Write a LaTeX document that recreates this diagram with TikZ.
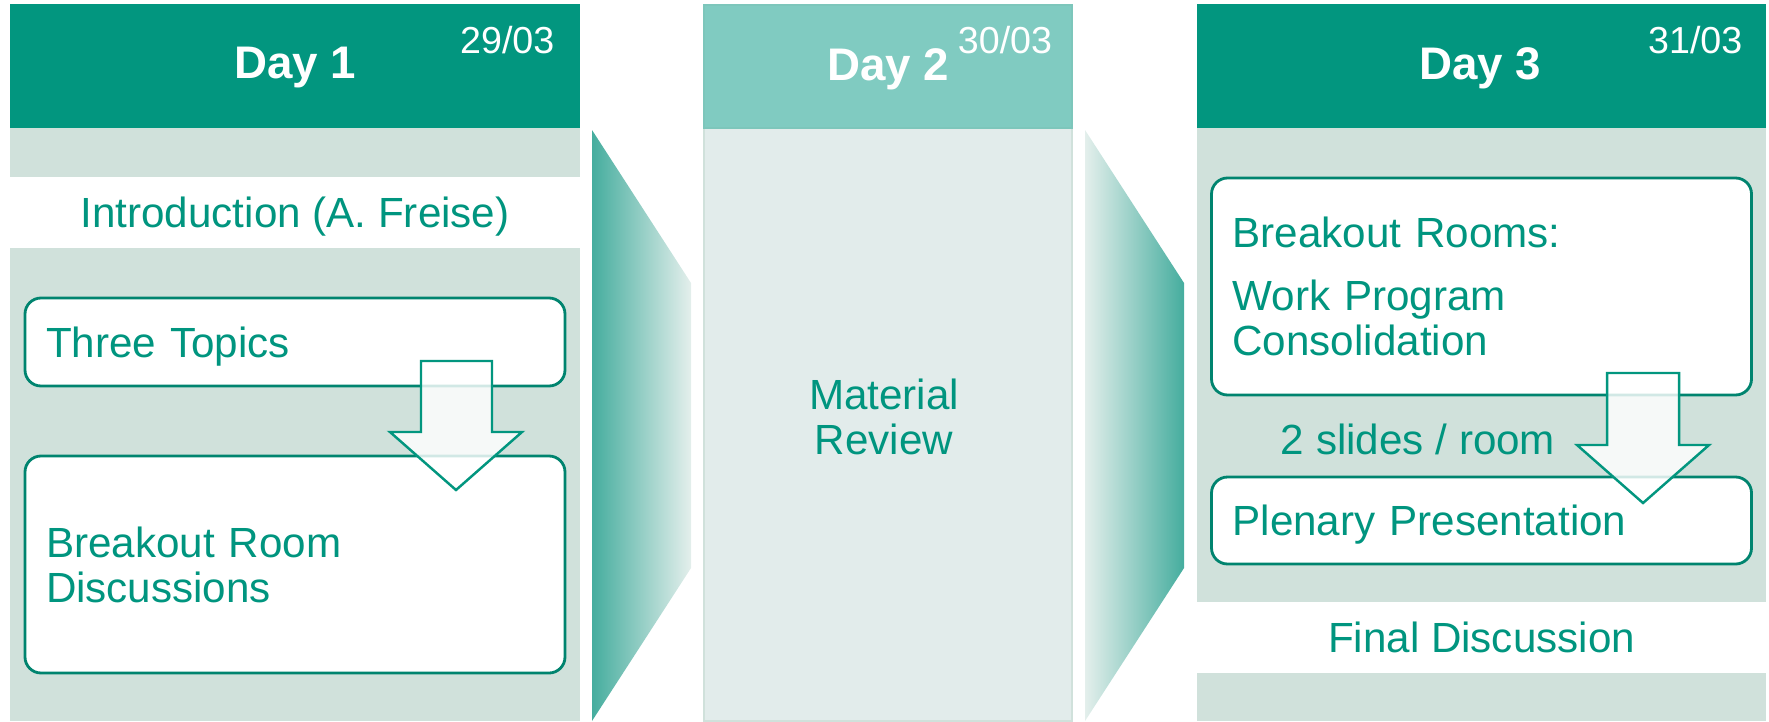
\documentclass[tikz,border=0pt]{standalone}
\usepackage{fontspec}
\setmainfont{Liberation Sans}
\usetikzlibrary{positioning}

\definecolor{headteal}{HTML}{02967F}
\definecolor{bodygrey}{HTML}{D0E1DB}
\definecolor{paleteal}{HTML}{80CBC1}
\definecolor{palegrey}{HTML}{E2ECEB}
\definecolor{textteal}{HTML}{00957F}
\definecolor{boxteal}{HTML}{00846F}
\definecolor{gradteal}{HTML}{45AD9E}
\definecolor{gradlight}{HTML}{E4EFEC}

\tikzset{
  bodytext/.style={text=textteal,font=\fontsize{12}{12.8}\selectfont},
  dayname/.style={text=white,font=\bfseries\fontsize{13}{15}\selectfont,inner sep=0pt},
  daydate/.style={text=white,font=\fontsize{10.7}{12}\selectfont,inner sep=0pt},
  band/.style={bodytext,fill=white,minimum width=57mm,minimum height=7.1mm,inner sep=0pt,
    text depth=0pt},
  roundbox/.style={bodytext,draw=boxteal,line width=0.8pt,fill=white,rounded corners=1.6mm,
    text width=49.8mm,align=left,inner xsep=2.1mm,inner ysep=0pt},
  blockarrow/.style={draw=headteal,line width=0.7pt,fill=white,fill opacity=0.82},
}

\begin{document}
\begin{tikzpicture}[x=0.1mm,y=-0.1mm]
  \useasboundingbox (0,0) rectangle (1769,721);

  % day 1
  \fill[bodygrey] (10,128) rectangle (580,721);
  \fill[headteal] (10,4) rectangle (580,128);
  \node[dayname] (day1) at (295,68) {Day 1};
  \node[daydate,anchor=east] (date1) at (555,40) {29/03};
  \node[band] (intro) at (295,212.5) {Introduction (A. Freise)};
  \node[roundbox,minimum height=8.8mm,text depth=0pt] (topics) at (295,342) {Three Topics};
  \node[roundbox,minimum height=21.7mm] (rooms) at (295,564.5) {Breakout Room\\Discussions};
  \path[blockarrow] (421,361) -- (492,361) -- (492,432) -- (522,432) -- (456,490)
    -- (390,432) -- (421,432) -- cycle;

  % gradient links
  \shade[left color=gradteal,right color=gradlight] (592,130) -- (691,283) -- (691,568)
    -- (592,721) -- cycle;
  \shade[left color=gradlight,right color=gradteal] (1085,130) -- (1184,283) -- (1184,568)
    -- (1085,721) -- cycle;

  % day 2
  \filldraw[fill=palegrey,draw=bodygrey,line width=0.8pt] (704,128) rectangle (1072,721);
  \filldraw[fill=paleteal,draw=gradteal!70,line width=0.6pt] (704,5) rectangle (1072,128);
  \node[dayname] (day2) at (888,69) {Day 2};
  \node[daydate] (date2) at (1005,40) {30/03};
  \node[bodytext,align=center,inner sep=0pt] (review) at (884,417) {Material\\Review};

  % day 3
  \fill[bodygrey] (1197,128) rectangle (1766,721);
  \fill[headteal] (1197,4) rectangle (1766,128);
  \node[dayname] (day3) at (1480,68) {Day 3};
  \node[daydate,anchor=east] (date3) at (1743,40) {31/03};
  \node[roundbox,minimum height=21.7mm] (program) at (1481.5,286.5)
    {Breakout Rooms:\\[5pt]Work Program\\Consolidation};
  \node[bodytext,inner sep=0pt] (slides) at (1418,439) {2 slides / room};
  \node[roundbox,minimum height=8.7mm,text depth=0pt] (plenary) at (1481.5,520.5)
    {Plenary Presentation};
  \node[band] (final) at (1481.5,637.5) {Final Discussion};
  \path[blockarrow] (1607,373) -- (1679,373) -- (1679,445) -- (1709,445) -- (1643,503)
    -- (1577,445) -- (1607,445) -- cycle;
\end{tikzpicture}
\end{document}
